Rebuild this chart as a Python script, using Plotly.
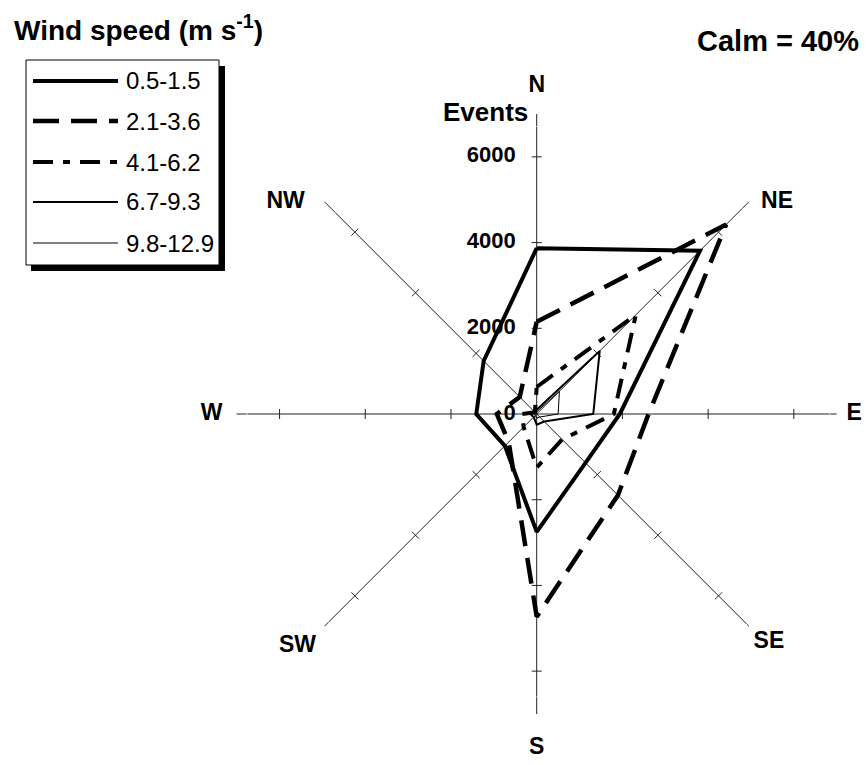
import math
import plotly.graph_objects as go

# ---------------- data ----------------
DIRECTIONS = ["N", "NE", "E", "SE", "S", "SW", "W", "NW"]
DIR_ANGLES = [0, 45, 90, 135, 180, 225, 270, 315]
SPEED_CLASSES = ["0.5-1.5", "2.1-3.6", "4.1-6.2", "6.7-9.3", "9.8-12.9"]
EVENTS_05_15 = [3870, 5390, 1940, 1610, 2750, 1050, 1410, 1750]
EVENTS_21_36 = [2150, 6250, 2610, 2680, 4730, 925, 930, 560]
EVENTS_41_62 = [630, 3270, 1800, 840, 1250, 430, 350, 60]
EVENTS_67_93 = [100, 2080, 1320, 250, 250, 100, 150, 50]
EVENTS_98_129 = [50, 750, 500, 100, 100, 50, 50, 30]
TICK_VALS = [0, 2000, 4000, 6000]
TICK_TEXT = ["0", "2000", "4000", "6000"]
R_MAX = 7000

SERIES = [EVENTS_05_15, EVENTS_21_36, EVENTS_41_62, EVENTS_67_93, EVENTS_98_129]

# ---------------- styles ----------------
W, H = 866, 765
FONT = "Liberation Sans, Arial, Helvetica, sans-serif"
STYLES = [
    dict(width=4, dash="solid"),
    dict(width=4.5, dash="26px,12px"),
    dict(width=4, dash="20px,10px,7px,10px"),
    dict(width=2, dash="solid"),
    dict(width=1, dash="solid"),
]
# placement of the compass labels around the end of each spoke
LABEL_POS = ["top center", "middle right", "middle right", "bottom right",
             "bottom center", "bottom left", "middle left", "middle left"]
LABEL_PAD = [25, 18, 14, 6, 34, 12, 21, 30]

# polar area in pixels
CX, CY, RAD = 536.7, 414.0, 300.0


def px_x(x):
    return x / W


def px_y(y):
    return 1 - y / H


fig = go.Figure()

# spoke tick marks (cross marks on every spoke at each tick value)
half = 5.0 * R_MAX / RAD
tr, tt = [], []
for a in DIR_ANGLES:
    for v in TICK_VALS[1:]:
        r2 = math.hypot(v, half)
        d = math.degrees(math.atan(half / v))
        tr += [r2, r2, None]
        tt += [a - d, a + d, None]
fig.add_trace(go.Scatterpolar(r=tr, theta=tt, mode="lines",
                              line=dict(color="#222", width=1),
                              hoverinfo="skip", showlegend=False,
                              connectgaps=False))

# data series
for name, vals, st in zip(SPEED_CLASSES, SERIES, STYLES):
    fig.add_trace(go.Scatterpolar(
        r=vals + vals[:1], theta=DIR_ANGLES + DIR_ANGLES[:1],
        mode="lines", name=name,
        line=dict(color="black", width=st["width"], dash=st["dash"]),
        showlegend=False))

# radial tick labels along the N spoke
fig.add_trace(go.Scatterpolar(
    r=TICK_VALS, theta=[0] * len(TICK_VALS), mode="markers+text",
    text=TICK_TEXT, textposition="middle left",
    textfont=dict(family=FONT, size=22, color="black", weight="bold"),
    marker=dict(size=32, color="rgba(0,0,0,0)"),
    hoverinfo="skip", showlegend=False, cliponaxis=False))

# compass direction labels at the spoke ends
fig.add_trace(go.Scatterpolar(
    r=[R_MAX] * len(DIR_ANGLES), theta=DIR_ANGLES, mode="markers+text",
    text=DIRECTIONS, textposition=LABEL_POS,
    textfont=dict(family=FONT, size=23, color="black", weight="bold"),
    marker=dict(size=LABEL_PAD, color="rgba(0,0,0,0)"),
    hoverinfo="skip", showlegend=False, cliponaxis=False))

fig.update_layout(
    width=W, height=H,
    margin=dict(l=0, r=0, t=0, b=0),
    paper_bgcolor="white", plot_bgcolor="white",
    showlegend=False,
    font=dict(family=FONT, color="black"),
    polar=dict(
        domain=dict(x=[(CX - RAD) / W, (CX + RAD) / W],
                    y=[px_y(CY + RAD), px_y(CY - RAD)]),
        bgcolor="white",
        radialaxis=dict(range=[0, R_MAX], showgrid=False, showline=False,
                        showticklabels=False, ticks="", angle=90),
        angularaxis=dict(rotation=90, direction="clockwise",
                         tickmode="array", tickvals=DIR_ANGLES, ticktext=DIRECTIONS,
                         showgrid=True, gridcolor="#222", gridwidth=1,
                         showline=False, ticks="", showticklabels=False),
    ),
)

# legend (manual, boxed with shadow)
shapes = []
shapes.append(dict(type="rect", xref="paper", yref="paper",
                   x0=px_x(31), x1=px_x(225), y0=px_y(271), y1=px_y(66),
                   fillcolor="black", line=dict(width=0), layer="above"))
shapes.append(dict(type="rect", xref="paper", yref="paper",
                   x0=px_x(26), x1=px_x(219), y0=px_y(265), y1=px_y(60),
                   fillcolor="white", line=dict(color="black", width=1), layer="above"))
ROW_Y = [81, 121, 162, 202, 243]
annotations = []
for name, st, yy in zip(SPEED_CLASSES, STYLES, ROW_Y):
    shapes.append(dict(type="line", xref="paper", yref="paper",
                       x0=px_x(33), x1=px_x(118), y0=px_y(yy), y1=px_y(yy),
                       line=dict(color="black", width=st["width"], dash=st["dash"]),
                       layer="above"))
    annotations.append(dict(text=name, xref="paper", yref="paper",
                            x=px_x(124), y=px_y(yy), xanchor="left", yanchor="middle",
                            showarrow=False, font=dict(family=FONT, size=24, color="black")))

annotations += [
    dict(text="Wind speed (m s<sup>-1</sup>)", xref="paper", yref="paper",
         x=px_x(12), y=px_y(28), xanchor="left", yanchor="middle", showarrow=False,
         font=dict(family=FONT, size=28, color="black", weight="bold")),
    dict(text="Calm = 40%", xref="paper", yref="paper",
         x=px_x(861), y=px_y(41), xanchor="right", yanchor="middle", showarrow=False,
         font=dict(family=FONT, size=29, color="black", weight="bold")),
    dict(text="Events", xref="paper", yref="paper",
         x=px_x(530), y=px_y(112), xanchor="right", yanchor="middle", showarrow=False,
         font=dict(family=FONT, size=26, color="black", weight="bold")),
]

fig.update_layout(shapes=shapes, annotations=annotations)

fig.write_html("out.html", config={"displayModeBar": False})
